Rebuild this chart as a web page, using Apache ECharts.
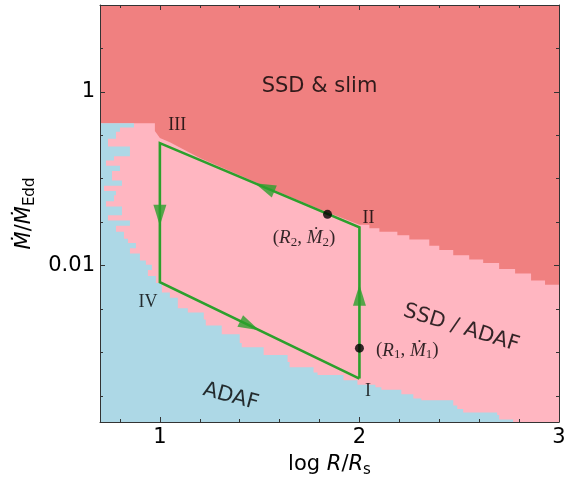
<!DOCTYPE html>
<html>
<head>
<meta charset="utf-8">
<script src="https://cdn.jsdelivr.net/npm/echarts@6/dist/echarts.min.js"></script>
<style>
  html, body { margin: 0; padding: 0; background: #fff; }
  #chart { width: 577px; height: 483px; }
</style>
</head>
<body>
<div id="chart"></div>
<script>
// x: log R/Rs, y: log10 of Mdot/MdotEdd
const xMin = 0.7, xMax = 3, yMin = -3.8, yMax = 1;
const xMajor = [1, 2, 3];
const xMinor = [0.8, 1.2, 1.4, 1.6, 1.8, 2.2, 2.4, 2.6, 2.8];
const yMajor = [-2, 0];
const yMinor = [-3.5, -3, -2.5, -1.5, -1, -0.5, 0.5];

// border between "SSD & slim" and "SSD / ADAF"
const redEdgeX = [0.70, 0.975, 0.975, 1.00, 1.05, 1.20, 1.50, 1.80, 2.00,
  2.05, 2.05, 2.10, 2.10, 2.19, 2.19, 2.25, 2.25, 2.35, 2.35, 2.40, 2.40, 2.47,
  2.47, 2.55, 2.55, 2.62, 2.62, 2.70, 2.70, 2.78, 2.78, 2.86, 2.86, 2.93, 2.93, 3.00];
const redEdgeY = [-0.36, -0.36, -0.45, -0.53, -0.58, -0.76, -1.06, -1.35, -1.53,
  -1.53, -1.57, -1.57, -1.61, -1.61, -1.65, -1.65, -1.70, -1.70, -1.77, -1.77, -1.82, -1.82,
  -1.88, -1.88, -1.93, -1.93, -1.97, -1.97, -2.04, -2.04, -2.09, -2.09, -2.17, -2.17, -2.22, -2.22];

// ADAF region, row by row: top of each row and how far right it reaches
const blueBandTop = [-0.36, -0.41, -0.46, -0.54, -0.63, -0.74, -0.79, -0.85, -0.91, -1.02,
  -1.08, -1.14, -1.19, -1.26, -1.32, -1.42, -1.48, -1.54, -1.61, -1.69,
  -1.74, -1.80, -1.86, -1.94, -1.99, -2.05, -2.12, -2.20, -2.31, -2.37,
  -2.49, -2.54, -2.62, -2.69, -2.79, -2.89, -2.94, -3.03, -3.11, -3.17,
  -3.23, -3.26, -3.32, -3.37, -3.40, -3.43, -3.48, -3.53, -3.55, -3.61,
  -3.65, -3.69, -3.72, -3.77];
const blueBandRight = [0.87, 0.80, 0.78, 0.74, 0.85, 0.77, 0.73, 0.80, 0.76, 0.81,
  0.72, 0.78, 0.77, 0.73, 0.81, 0.74, 0.85, 0.78, 0.82, 0.84,
  0.88, 0.85, 0.90, 0.93, 0.96, 0.94, 0.98, 1.01, 1.05, 1.09,
  1.14, 1.22, 1.23, 1.31, 1.40, 1.41, 1.52, 1.64, 1.65, 1.77,
  1.79, 1.92, 1.99, 2.08, 2.11, 2.21, 2.27, 2.31, 2.47, 2.49,
  2.52, 2.69, 2.70, 2.77];

// cycle I -> II -> III -> IV -> I
const cycleX = [2.0, 2.0, 1.0, 1.0, 2.0];
const cycleY = [-3.30, -1.56, -0.59, -2.19, -3.30];
// one arrow on each leg of the cycle
const arrowX = [2.0, 1.525, 1.0, 1.45];
const arrowY = [-2.34, -1.10, -1.42, -2.69];
const stageNames = ['I', 'II', 'III', 'IV'];
const stageX = [2.0425, 2.045, 1.0875, 0.94];
const stageY = [-3.45, -1.45, -0.38, -2.42];

// (R1, M1) and (R2, M2)
const dotX = [2.0, 1.84];
const dotY = [-2.95, -1.41];
const dotLabelX = [2.24, 1.7225];
const dotLabelY = [-2.977, -1.686];

const regionNames = ['SSD & slim', 'SSD / ADAF', 'ADAF'];
const regionX = [1.80, 2.51, 1.355];
const regionY = [0.06, -2.72, -3.51];

const zip = (xs, ys) => xs.map((x, i) => [x, ys[i]]);

const redPoly = [[xMin, yMin], [xMax, yMin], [xMax, yMax], [xMin, yMax]];
const pinkPoly = [[xMin, yMin]].concat(zip(redEdgeX, redEdgeY), [[xMax, yMin]]);
const bluePoly = [[xMin, yMin], [xMin, blueBandTop[0]]];
blueBandTop.forEach((top, i) => {
  const bottom = i + 1 < blueBandTop.length ? blueBandTop[i + 1] : yMin;
  bluePoly.push([blueBandRight[i], top], [blueBandRight[i], bottom]);
});

function polygon(pts, color) {
  return {
    type: 'custom',
    z: 1,
    silent: true,
    clip: true,
    data: [pts[0]],
    renderItem: (params, api) => ({
      type: 'polygon',
      shape: { points: pts.map(p => api.coord(p)) },
      style: { fill: color }
    })
  };
}

const sans = 'DejaVu Sans';
const serif = 'Liberation Serif';
const axisColor = '#333';

function axis(pos, ticks, len, extra) {
  const vertical = pos === 'left' || pos === 'right';
  return Object.assign({
    type: 'value',
    position: pos,
    min: vertical ? yMin : xMin,
    max: vertical ? yMax : xMax,
    z: 10,
    splitLine: { show: false },
    axisLine: { show: false, onZero: false },
    axisTick: { show: true, inside: true, length: len, customValues: ticks,
      lineStyle: { color: axisColor, width: 1 } },
    axisLabel: { show: false }
  }, extra || {});
}

const frame = { show: true, onZero: false, lineStyle: { color: axisColor, width: 1 } };
const tickFont = { fontFamily: sans, fontSize: 21, color: '#000' };
const nameRich = {
  n: { fontFamily: sans, fontSize: 21, color: '#000', lineHeight: 26 },
  i: { fontFamily: sans, fontSize: 21, fontStyle: 'italic', color: '#000', lineHeight: 26 },
  s: { fontFamily: sans, fontSize: 15, color: '#000', lineHeight: 15, verticalAlign: 'bottom' }
};
const mathRich = {
  p: { fontFamily: serif, fontSize: 19, color: '#000', lineHeight: 22 },
  i: { fontFamily: serif, fontSize: 19, fontStyle: 'italic', color: '#000', lineHeight: 22 },
  s: { fontFamily: serif, fontSize: 13, color: '#000', lineHeight: 13, verticalAlign: 'bottom' }
};

const option = {
  animation: false,
  grid: { left: 100, right: 18, top: 5, bottom: 58, containLabel: false },
  xAxis: [
    axis('bottom', xMajor, 5, {
      axisLine: frame,
      axisLabel: Object.assign({ show: true, customValues: xMajor, margin: 5,
        formatter: v => String(v) }, tickFont),
      name: '{n|log }{i|R}{n|/}{i|R}{s|s}',
      nameLocation: 'middle',
      nameGap: 30,
      nameTextStyle: { rich: nameRich }
    }),
    axis('bottom', xMinor, 3),
    axis('top', xMajor, 5, { axisLine: frame }),
    axis('top', xMinor, 3)
  ],
  yAxis: [
    axis('left', yMajor, 5, {
      axisLine: frame,
      axisLabel: Object.assign({ show: true, customValues: yMajor, margin: 5,
        padding: [5, 0, 0, 0],
        formatter: v => String(+Math.pow(10, v).toPrecision(3)) }, tickFont),
      name: '{i|Ṁ}{n|/}{i|Ṁ}{s|Edd}',
      nameLocation: 'middle',
      nameRotate: 90,
      nameGap: 55,
      nameTextStyle: { rich: nameRich }
    }),
    axis('left', yMinor, 3),
    axis('right', yMajor, 5, { axisLine: frame }),
    axis('right', yMinor, 3)
  ],
  series: [
    polygon(redPoly, '#F08080'),
    polygon(pinkPoly, '#FFB6C1'),
    polygon(bluePoly, '#ADD8E6'),
    {
      type: 'line',
      z: 3,
      data: zip(cycleX, cycleY),
      symbol: 'none',
      silent: true,
      lineStyle: { color: '#2ca02c', width: 2.6, join: 'miter' }
    },
    {
      id: 'arrows',
      type: 'scatter',
      z: 4,
      silent: true,
      symbol: 'triangle',
      symbolSize: [13, 21],
      itemStyle: { color: '#2ca02c' },
      data: zip(arrowX, arrowY)
    },
    {
      type: 'scatter',
      z: 5,
      silent: true,
      symbolSize: 9,
      itemStyle: { color: '#000' },
      data: zip(dotX, dotY)
    },
    {
      type: 'scatter',
      z: 6,
      silent: true,
      symbolSize: 0,
      data: regionNames.map((n, i) => ({
        value: [regionX[i], regionY[i]],
        name: n,
        label: { rotate: [0, -17, -15][i] }
      })),
      label: { show: true, position: 'inside', formatter: p => p.name,
        fontFamily: sans, fontSize: 21, color: '#000' }
    },
    {
      type: 'scatter',
      z: 6,
      silent: true,
      symbolSize: 0,
      data: stageNames.map((n, i) => ({ value: [stageX[i], stageY[i]], name: n })),
      label: { show: true, position: 'inside', formatter: p => p.name,
        fontFamily: serif, fontSize: 18, color: '#000' }
    },
    {
      type: 'scatter',
      z: 6,
      silent: true,
      symbolSize: 0,
      data: dotLabelX.map((x, i) => ({ value: [x, dotLabelY[i]], name: String(i + 1) })),
      label: {
        show: true, position: 'inside',
        formatter: p => '{p|(}{i|R}{s|' + p.name + '}{p|, }{i|Ṁ}{s|' + p.name + '}{p|)}',
        rich: mathRich
      }
    }
  ]
};

const chart = echarts.init(document.getElementById('chart'));
chart.setOption(option);

// turn each arrow along its leg of the cycle, measured on screen
const toPx = p => chart.convertToPixel({ xAxisIndex: 0, yAxisIndex: 0 }, p);
const arrowData = arrowX.map((x, i) => {
  const a = toPx([cycleX[i], cycleY[i]]);
  const b = toPx([cycleX[i + 1], cycleY[i + 1]]);
  const ang = Math.atan2(-(b[1] - a[1]), b[0] - a[0]) * 180 / Math.PI;
  return { value: [x, arrowY[i]], symbolRotate: ang - 90 };
});
chart.setOption({ series: [{ id: 'arrows', data: arrowData }] });
</script>
</body>
</html>
